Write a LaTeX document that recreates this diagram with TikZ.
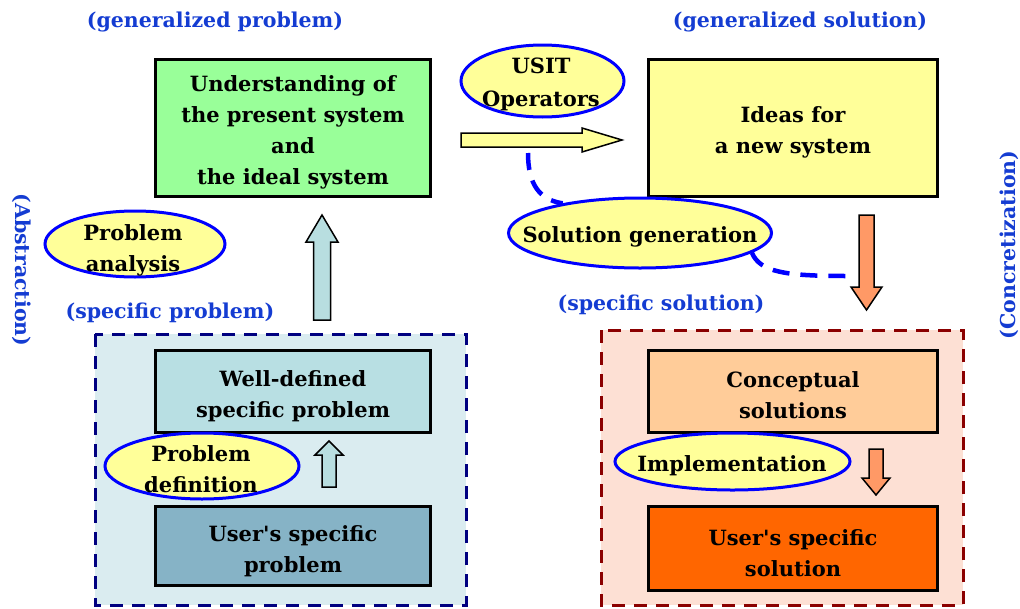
\documentclass[tikz,border=0pt]{standalone}
\usepackage{fontspec}
\setmainfont{DejaVu Serif}
\usetikzlibrary{shapes.geometric}
\definecolor{labelblue}{RGB}{20,60,210}
\definecolor{ovalblue}{RGB}{0,0,255}
\definecolor{ovalfill}{RGB}{255,255,153}
\definecolor{genprob}{RGB}{153,255,153}
\definecolor{gensol}{RGB}{255,255,153}
\definecolor{wellprob}{RGB}{184,223,227}
\definecolor{userprob}{RGB}{134,179,198}
\definecolor{concsol}{RGB}{255,204,153}
\definecolor{usersol}{RGB}{255,102,0}
\definecolor{probarea}{RGB}{218,236,240}
\definecolor{solarea}{RGB}{253,224,212}
\definecolor{probedge}{RGB}{0,0,128}
\definecolor{soledge}{RGB}{139,0,0}
\definecolor{uparrow}{RGB}{184,222,224}
\definecolor{downarrow}{RGB}{255,153,102}
\begin{document}
\begin{tikzpicture}[x=1pt,y=-1pt,
  txt/.style={font=\bfseries\fontsize{21}{31}\selectfont, align=center, inner sep=0pt},
  stage/.style={draw=black, line width=3pt, inner sep=0pt},
  oval/.style={ellipse, draw=ovalblue, fill=ovalfill, line width=3pt, inner sep=0pt},
  tag/.style={text=labelblue, font=\bfseries\fontsize{20.5}{22}\selectfont, inner sep=0pt},
  area/.style={line width=3pt, dash pattern=on 13pt off 9pt},
  blockarrow/.style={draw=black, line width=1.5pt, line join=miter},
  link/.style={draw=ovalblue, line width=4.5pt, dash pattern=on 17pt off 11pt}
]
\useasboundingbox (0,0) rectangle (1020,608);

% dashed group frames
\draw[area, fill=probarea, draw=probedge] (95,334) rectangle (466,605);
\draw[area, fill=solarea, draw=soledge] (601,330) rectangle (963,605);

% stage boxes
\node[stage, fill=genprob, minimum width=275pt, minimum height=137pt] (gp) at (292.5,128) {};
\node[stage, fill=gensol, minimum width=289pt, minimum height=137pt] (gs) at (792.5,128) {};
\node[stage, fill=wellprob, minimum width=275pt, minimum height=82pt] (wp) at (292.5,391) {};
\node[stage, fill=userprob, minimum width=275pt, minimum height=79pt] (up) at (292.5,545.5) {};
\node[stage, fill=concsol, minimum width=289pt, minimum height=82pt] (cs) at (792.5,391) {};
\node[stage, fill=usersol, minimum width=289pt, minimum height=84pt] (us) at (792.5,548) {};

\node[txt] (gp-t) at (293,132) {Understanding of\\the present system\\and\\the ideal system};
\node[txt] (gs-t) at (793,132) {Ideas for\\a new system};
\node[txt] (wp-t) at (293,396) {Well-defined\\specific problem};
\node[txt] (up-t) at (293,551) {User\textquotesingle s specific\\problem};
\node[txt] (cs-t) at (793,395.5) {Conceptual\\solutions};
\node[txt] (us-t) at (793,553.5) {User\textquotesingle s specific\\solution};

% block arrows
\draw[blockarrow, fill=uparrow] (313.5,320) -- (313.5,242) -- (306,242) -- (322,215)
  -- (338,242) -- (330.5,242) -- (330.5,320) -- cycle;
\draw[blockarrow, fill=uparrow] (322,487) -- (322,455) -- (315,455) -- (329,441)
  -- (343,455) -- (336,455) -- (336,487) -- cycle;
\draw[blockarrow, fill=gensol] (461,133) -- (582,133) -- (582,128) -- (622,140)
  -- (582,152) -- (582,147) -- (461,147) -- cycle;
\draw[blockarrow, fill=downarrow] (859,215) -- (874,215) -- (874,287) -- (882,287)
  -- (866.5,310) -- (851,287) -- (859,287) -- cycle;
\draw[blockarrow, fill=downarrow] (869,449) -- (883,449) -- (883,478) -- (890,478)
  -- (876,495) -- (862,478) -- (869,478) -- cycle;

\coordinate (opfoot) at (528,153);
\coordinate (downmid) at (846,276);

% activity ovals
\node[oval, minimum width=163pt, minimum height=72pt] (usit) at (542.5,81) {};
\node[oval, minimum width=263pt, minimum height=70pt] (sg) at (640,233) {};
\node[oval, minimum width=180pt, minimum height=66pt] (pa) at (135,244) {};
\node[oval, minimum width=194pt, minimum height=66pt] (pd) at (202,466) {};
\node[oval, minimum width=235pt, minimum height=57pt] (im) at (732.5,461.5) {};

\node[txt, font=\bfseries\fontsize{21}{33}\selectfont] (usit-t) at (541,84) {USIT\\Operators};
\node[txt] (sg-t) at (640,237) {Solution generation};
\node[txt] (pa-t) at (133,250) {Problem\\analysis};
\node[txt] (pd-t) at (201,469) {Problem\\definition};
\node[txt] (im-t) at (732,466) {Implementation};

% dashed links into and out of solution generation
\draw[link] (opfoot) .. controls (528,185) and (540,200) .. (sg.159);
\draw[link] (sg.-10) .. controls (760,272) and (785,276) .. (downmid);

% side and corner tags
\node[tag] (t1) at (215,22) {(generalized problem)};
\node[tag] (t2) at (800,22) {(generalized solution)};
\node[tag] (t3) at (170,313) {(specific problem)};
\node[tag] (t4) at (661,305) {(specific solution)};
\node[tag, rotate=-90] (t5) at (22,270) {(Abstraction)};
\node[tag, rotate=90] (t6) at (1009,245) {(Concretization)};
\end{tikzpicture}
\end{document}
